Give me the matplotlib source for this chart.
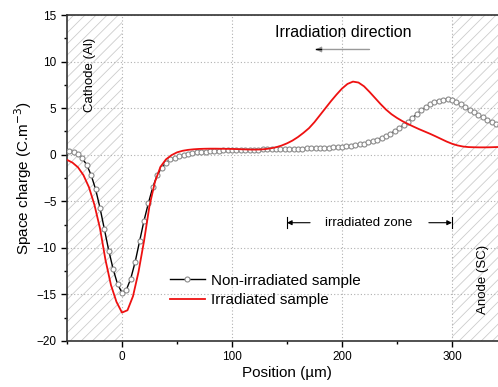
import numpy as np
import matplotlib
matplotlib.use("Agg")
import matplotlib.pyplot as plt
from matplotlib.ticker import MultipleLocator

plt.rcParams['font.family'] = ['Liberation Sans', 'DejaVu Sans']
plt.rcParams['hatch.color'] = '#cccccc'
plt.rcParams['hatch.linewidth'] = 0.6

# Non-irradiated sample (positions in µm, space charge in C.m^-3)
nonirr_x = np.arange(-48, 345, 4)
nonirr_y = [0.45, 0.30, 0.05, -0.40, -1.10, -2.20, -3.70, -5.70, -8.00, -10.30,
            -12.30, -13.90, -14.80, -14.50, -13.30, -11.50, -9.30, -7.10, -5.20, -3.50,
            -2.20, -1.40, -0.85, -0.50,
            -0.30, -0.15, 0.00, 0.10, 0.18, 0.25, 0.30, 0.34, 0.38, 0.41,
            0.44, 0.46, 0.48, 0.50,
            0.51, 0.52, 0.53, 0.54, 0.55, 0.56, 0.57, 0.58, 0.59, 0.60,
            0.61, 0.62, 0.63, 0.64, 0.65,
            0.66, 0.67, 0.68, 0.70, 0.71, 0.73, 0.75, 0.78, 0.81, 0.85,
            0.90, 0.95, 1.02, 1.10, 1.20,
            1.32, 1.46, 1.62, 1.80, 2.00, 2.25, 2.55, 2.85, 3.20, 3.55,
            3.95, 4.35, 4.75, 5.10, 5.40,
            5.65, 5.82, 5.92, 5.95, 5.85, 5.65, 5.40, 5.10, 4.80, 4.55,
            4.25, 4.00, 3.75, 3.55, 3.35, 3.20]

# Irradiated sample
irr_x = np.arange(-50, 351, 5)
irr_y = [-0.55, -0.85, -1.35, -2.20, -3.50, -5.40, -7.90, -11.30, -14.00, -15.80,
         -16.95, -16.70, -15.20, -12.60, -9.30, -5.50, -2.90, -1.30, -0.50, -0.05,
         0.25, 0.42, 0.52, 0.58, 0.62, 0.64, 0.65, 0.65, 0.64, 0.63,
         0.62, 0.60, 0.58, 0.56, 0.55, 0.56, 0.60, 0.68, 0.80, 0.98,
         1.22, 1.52, 1.90, 2.35, 2.85, 3.50, 4.25, 5.00, 5.75, 6.45,
         7.10, 7.60, 7.85, 7.75, 7.35, 6.75, 6.10, 5.45, 4.85, 4.35,
         3.95, 3.60, 3.30, 3.02, 2.75, 2.50, 2.25, 1.98, 1.70, 1.42,
         1.18, 1.00, 0.88, 0.82, 0.80, 0.79, 0.79, 0.80, 0.82, 0.84, 0.86]

fig = plt.figure(figsize=(4.98, 3.87), dpi=100)
ax = fig.add_axes([0.1345, 0.1189, 0.8835, 0.8423])

xlim = (-50, 350)
ylim = (-20, 15)
ax.set_xlim(*xlim)
ax.set_ylim(*ylim)

# hatched electrode zones
ax.axvspan(-50, 0, facecolor='none', edgecolor='#cccccc', hatch='///', linewidth=0, zorder=0)
ax.axvspan(300, 350, facecolor='none', edgecolor='#cccccc', hatch='///', linewidth=0, zorder=0)

ax.xaxis.set_major_locator(MultipleLocator(100))
ax.xaxis.set_minor_locator(MultipleLocator(50))
ax.yaxis.set_major_locator(MultipleLocator(5))
ax.yaxis.set_minor_locator(MultipleLocator(2.5))
ax.grid(True, which='major', color='#b0b0b0', linestyle=(0, (1, 2)), linewidth=0.8)
ax.set_axisbelow(True)

ax.tick_params(axis='both', which='major', direction='out', length=4, width=1, labelsize=8.5)
ax.tick_params(axis='both', which='minor', direction='out', length=2.5, width=1)
for s in ax.spines.values():
    s.set_linewidth(1.2)
    s.set_color('#333333')

ax.plot(nonirr_x, nonirr_y, color='black', linewidth=1.0, marker='o', markersize=3.6,
        markerfacecolor='white', markeredgecolor='#8a8a8a', markeredgewidth=0.8,
        label='Non-irradiated sample', zorder=3)
ax.plot(irr_x, irr_y, color='#ee1111', linewidth=1.3, label='Irradiated sample', zorder=4)

ax.set_xlabel('Position (µm)', fontsize=11, labelpad=2)
ax.set_ylabel('Space charge (C.m$^{-3}$)', fontsize=11, labelpad=2)

leg = ax.legend(loc='lower left', bbox_to_anchor=(0.22, 0.085), frameon=False, fontsize=11,
                handlelength=2.3, handletextpad=0.4, labelspacing=0.35, borderaxespad=0)

ax.text(-29, 8.6, 'Cathode (Al)', rotation=90, ha='center', va='center', fontsize=9.5)
ax.text(328, -13.4, 'Anode (SC)', rotation=90, ha='center', va='center', fontsize=9.5)

ax.text(201, 13.1, 'Irradiation direction', ha='center', va='center', fontsize=11.5)
ax.annotate('', xy=(176, 11.3), xytext=(225, 11.3),
            arrowprops=dict(arrowstyle='-|>', color='#999999', lw=1.0,
                            mutation_scale=8, shrinkA=0, shrinkB=0))
ax.plot([176, 181], [11.3, 11.3], color='black', lw=1.0, zorder=5)

# irradiated zone annotation
yz = -7.3
ax.text(224, yz, 'irradiated zone', ha='center', va='center', fontsize=9.5)
ax.annotate('', xy=(150, yz), xytext=(171, yz),
            arrowprops=dict(arrowstyle='-|>', color='black', lw=0.8,
                            mutation_scale=7, shrinkA=0, shrinkB=0))
ax.annotate('', xy=(300, yz), xytext=(279, yz),
            arrowprops=dict(arrowstyle='-|>', color='black', lw=0.8,
                            mutation_scale=7, shrinkA=0, shrinkB=0))
ax.plot([150, 150], [yz - 0.6, yz + 0.6], color='black', lw=0.8)
ax.plot([300, 300], [yz - 0.6, yz + 0.6], color='black', lw=0.8)

fig.savefig('out.png', dpi=100)
